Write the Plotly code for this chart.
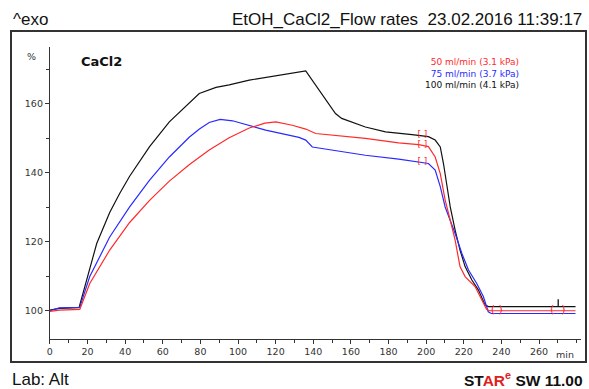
import plotly.graph_objects as go

# ---- data ----
t_black = [0, 5, 15.5, 21.2, 24.9, 31.8, 37.1, 42.4, 53, 63.5, 74.2, 79.4, 88.3, 95.3, 106, 121.8,
           136, 151.8, 155.1, 167.7, 178.4, 192.5, 201.2, 204.8, 207.5, 209.2, 211, 212.8, 215.4,
           218, 220.7, 224.3, 227.8, 231.3, 233, 279.4]
v_black = [100.2, 100.7, 100.9, 112.5, 119.5, 128.5, 134, 139, 147.6, 154.8, 160.3, 163, 164.8,
           165.5, 166.9, 168.3, 169.6, 157.2, 155.8, 153.3, 151.9, 151.1, 150.5, 149.5, 147.5, 142.7,
           136, 130.1, 123.4, 117.6, 112.8, 108.9, 106, 101.7, 101.2, 101.2]

t_blue = [0, 5, 15.9, 21.2, 31.8, 42.4, 53, 63.5, 74.2, 79.5, 84.7, 90.5, 97.1, 114.7, 132.4, 136,
          139.5, 150.1, 167.7, 185.4, 196, 201.2, 204.8, 207.5, 210.1, 212.8, 215.4, 219, 222.5,
          226.9, 230.4, 233, 234.6, 279.4]
v_blue = [100, 100.8, 101, 109.9, 121.4, 130.1, 137.9, 144.6, 150.4, 152.7, 154.6, 155.5, 155.1,
          152.4, 150.3, 149.5, 147.5, 146.6, 145.1, 144, 143.2, 142.7, 140.8, 136, 130.1, 126.3,
          122.4, 116.6, 111.8, 107.9, 104.1, 99.7, 99.2, 99.2]

t_red = [0, 5, 15.9, 21.2, 31.8, 42.4, 53, 63.5, 74.2, 84.7, 95.3, 106, 114.3, 120.1,
         128.8, 136, 141.3, 150.1, 167.7, 185.4, 196, 201.2, 204.8, 207.5, 210.1, 212.8, 215.4,
         218, 220.7, 226, 229.6, 232.1, 233.6, 279.4]
v_red = [99.8, 100.2, 100.4, 107.9, 117.6, 125.6, 132, 137.6, 142.4, 146.6, 150.2, 153, 154.4,
         154.8, 153.8, 152.7, 151.4, 150.9, 150, 148.7, 148.2, 147.6, 144.6, 139.8,
         132.1, 126.3, 120.5, 112.8, 109.9, 107, 103.1, 100.4, 100, 100]

series_names = ["50 ml/min (3.1 kPa)", "75 ml/min (3.7 kPa)", "100 ml/min (4.1 kPa)"]

# evaluation-limit markers
limit_t = [198, 198, 198, 237.5, 270]
limit_v = [151.0, 148.2, 143.2, 100.1, 100.1]
step_t = [270.2]
step_v = [102.3]

x_ticks = [0, 20, 40, 60, 80, 100, 120, 140, 160, 180, 200, 220, 240, 260]
y_ticks = [100, 120, 140, 160]

RED = "#ff2a2a"
BLUE = "#2a2aff"
BLACK = "#111111"

W, H = 589, 389
FL, FR, FT, FB = 12, 587, 32, 361          # outer frame in pixels
PL, PR, PT, PB = 50, 583, 47, 339          # plot axes in pixels
fw, fh = FR - FL, FB - FT


def px(xp):
    return (xp - FL) / fw


def py(yp):
    return (FB - yp) / fh


fig = go.Figure()
fig.add_trace(go.Scatter(x=t_black, y=v_black, mode="lines", line=dict(color=BLACK, width=1.2),
                         showlegend=False, hoverinfo="skip"))
fig.add_trace(go.Scatter(x=t_blue, y=v_blue, mode="lines", line=dict(color=BLUE, width=1.2),
                         showlegend=False, hoverinfo="skip"))
fig.add_trace(go.Scatter(x=t_red, y=v_red, mode="lines", line=dict(color=RED, width=1.2),
                         showlegend=False, hoverinfo="skip"))
fig.add_trace(go.Scatter(x=limit_t[:3], y=limit_v[:3], mode="text", text=["[ ]"] * 3,
                         textfont=dict(color=RED, size=9, family="DejaVu Sans"),
                         showlegend=False, hoverinfo="skip"))
fig.add_trace(go.Scatter(x=limit_t[3:5], y=limit_v[3:5], mode="text", text=["( )", "(  )"],
                         textfont=dict(color=RED, size=11, family="DejaVu Sans"),
                         showlegend=False, hoverinfo="skip"))
fig.add_trace(go.Scatter(x=step_t, y=step_v, mode="markers",
                         marker=dict(symbol="line-ns", size=5, line=dict(color="#333", width=1.5)),
                         showlegend=False, hoverinfo="skip"))
# invisible trace for the frame axes
fig.add_trace(go.Scatter(x=[0, 1], y=[0, 1], xaxis="x2", yaxis="y2", mode="lines",
                         line=dict(width=0, color="rgba(0,0,0,0)"),
                         showlegend=False, hoverinfo="skip"))

fig.update_layout(
    width=W, height=H,
    margin=dict(l=FL, r=W - FR, t=FT, b=H - FB),
    paper_bgcolor="white", plot_bgcolor="rgba(0,0,0,0)",
    font=dict(family="DejaVu Sans", size=9.5, color="#333333"),
    xaxis=dict(domain=[px(PL), px(PR)], anchor="y",
               range=[0, (PR - PL) / 1.888], tickmode="array", tickvals=x_ticks,
               ticktext=[str(v) for v in x_ticks], ticks="outside", ticklen=4,
               tickcolor="#333", showline=True, linecolor="#333", linewidth=1,
               showgrid=False, zeroline=False,
               minor=dict(dtick=10, ticks="outside", ticklen=3, tickcolor="#333"),
               tickfont=dict(size=9.5, color="#333")),
    yaxis=dict(domain=[py(PB), py(PT)], anchor="x",
               range=[91.8, 176.5], tickmode="array", tickvals=y_ticks,
               ticktext=[str(v) for v in y_ticks], ticks="outside", ticklen=4,
               tickcolor="#333", showline=True, linecolor="#333", linewidth=1,
               showgrid=False, zeroline=False,
               minor=dict(tickvals=[110, 130, 150, 170], ticks="outside", ticklen=3, tickcolor="#333"),
               tickfont=dict(size=9.5, color="#333")),
    xaxis2=dict(domain=[0, 1], anchor="y2", range=[0, 1], showline=True, mirror=True,
                linecolor="#333", linewidth=1.5, showticklabels=False, ticks="",
                showgrid=False, zeroline=False),
    yaxis2=dict(domain=[0, 1], anchor="x2", range=[0, 1], showline=True, mirror=True,
                linecolor="#333", linewidth=1.5, showticklabels=False, ticks="",
                showgrid=False, zeroline=False),
)

legend_text = "<br>".join(
    f"<span style='color:{c}'>{n}</span>" for n, c in zip(series_names, [RED, BLUE, BLACK])
)

ann = [
    dict(text="^exo", x=11, y=19, xanchor="left", size=17, color="#111", fam="Liberation Sans"),
    dict(text="EtOH_CaCl2_Flow rates  23.02.2016 11:39:17", x=586, y=19, xanchor="right", size=17,
         color="#111", fam="Liberation Sans"),
    dict(text="Lab: Alt", x=10, y=379, xanchor="left", size=17, color="#111", fam="Liberation Sans"),
    dict(text="<b>ST<span style='color:#e02020'>AR</span><sup style='color:#e02020'>e</sup> SW 11.00</b>",
         x=587, y=379, xanchor="right", size=15.5, color="#111", fam="Liberation Sans"),
    dict(text="%", x=32, y=56, xanchor="center", size=9.5, color="#333", fam="DejaVu Sans"),
    dict(text="min", x=567, y=354, xanchor="center", size=9.5, color="#333", fam="DejaVu Sans"),
    dict(text="<b>CaCl2</b>", x=79, y=62, xanchor="left", size=13, color="#111", fam="DejaVu Sans"),
    dict(text=legend_text, x=523, y=73, xanchor="right", size=9, color=BLACK, fam="DejaVu Sans"),
]
for a in ann:
    fig.add_annotation(text=a["text"], xref="paper", yref="paper",
                       x=px(a["x"]), y=py(a["y"]), align="right",
                       xanchor=a["xanchor"], yanchor="middle", showarrow=False,
                       font=dict(size=a["size"], color=a["color"], family=a["fam"]))

fig.write_html("out.html")
